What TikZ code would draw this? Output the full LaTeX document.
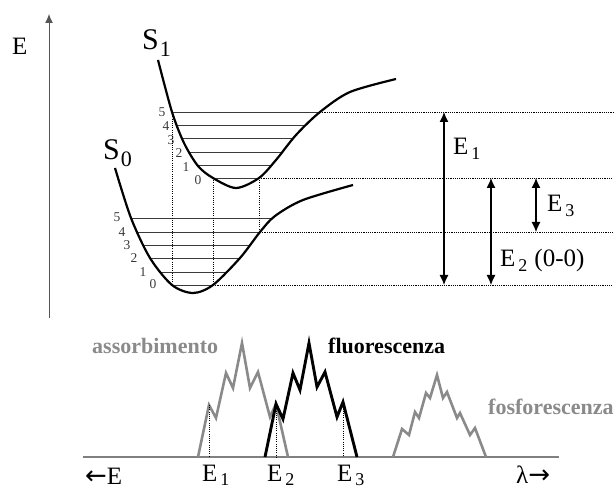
\documentclass[tikz,border=0pt]{standalone}
\usepackage{fontspec}
\setmainfont{Liberation Serif}
\newfontfamily\arrowfont{DejaVu Sans}
\usepackage{tikz}
\usetikzlibrary{arrows.meta,calc}
\definecolor{jabInk}{HTML}{000000}
\definecolor{jabLevel}{HTML}{3A3A3A}
\definecolor{jabAxis}{HTML}{555555}
\definecolor{jabGray}{HTML}{8A8A8A}
\definecolor{jabBase}{HTML}{808080}
\newcommand{\esub}[2][5pt]{\kern3pt\raisebox{-#1}{\fontsize{18}{18}\selectfont #2}}
\newcommand{\ssub}[1]{\kern1pt\raisebox{-7pt}{\fontsize{22}{22}\selectfont #1}}
\newcommand{\sidearrow}[1]{{\arrowfont\fontsize{26}{26}\selectfont #1}}
\tikzset{
  pes/.style={line width=2.2pt,jabInk},
  vib/.style={line width=.8pt,jabLevel},
  guide/.style={line width=.9pt,jabInk,dash pattern=on 1.1pt off 1.1pt},
  gap/.style={<->,line width=1.2pt,jabInk},
  lbl/.style={font=\fontsize{25}{28}\selectfont,inner sep=0pt,anchor=base west},
  statelbl/.style={font=\fontsize{30}{32}\selectfont,inner sep=0pt,anchor=base west},
  vnum/.style={font=\fontsize{13.5}{14}\selectfont,inner sep=0pt,text=jabLevel},
  band/.style={line width=2.6pt,jabGray},
  specname/.style={font=\fontsize{22}{24}\selectfont\bfseries,inner sep=0pt,anchor=base west}
}

\begin{document}
\begin{tikzpicture}[x=1pt,y=-1pt,>={Latex[length=10pt,width=9pt]}]
  \useasboundingbox (0,0) rectangle (614,489);
  \draw[line width=1pt,jabAxis,-{Latex[length=9pt,width=8pt]}] (49,318) -- (49,14);
  \node[lbl] (eaxis) at (12,55) {E};

  \coordinate (s1L5) at (172,112);
  \coordinate (s1R5) at (320,112);
  \coordinate (s1L0) at (213,178);
  \coordinate (s1R0) at (259,178);
  \coordinate (s0L0) at (172,285);
  \coordinate (s0R0) at (213,285);
  \coordinate (s0R4) at (260,232);
  \coordinate (rim) at (613,0);

  \begin{scope}
    \clip plot[smooth] coordinates {(158,60) (172,112) (184,143) (198,166) (213,178) (236,188)
      (259,178) (276,160) (296,135) (320,112) (350,92) (396,79)};
    \foreach \y in {112,125,138,152,165,178}{\draw[vib] (140,\y) -- (340,\y);}
  \end{scope}
  \begin{scope}
    \clip plot[smooth] coordinates {(115,168) (131,218) (150,258) (172,285) (193,293)
      (213,285) (240,258) (260,232) (275,216) (303,200) (353,185)};
    \foreach \y in {218,232,245,258,272,285}{\draw[vib] (110,\y) -- (300,\y);}
  \end{scope}
  \draw[pes] plot[smooth] coordinates {(158,60) (172,112) (184,143) (198,166) (213,178) (236,188)
      (259,178) (276,160) (296,135) (320,112) (350,92) (396,79)};
  \draw[pes] plot[smooth] coordinates {(115,168) (131,218) (150,258) (172,285) (193,293)
      (213,285) (240,258) (260,232) (275,216) (303,200) (353,185)};

  \foreach \n/\px/\py in {5/162/112,4/166/126,3/171/140,2/179/153,1/186/167,0/198/180}{
    \node[vnum] (sone\n) at (\px,\py) {\n};}
  \foreach \n/\px/\py in {5/117/217,4/122/232,3/127/245,2/134/258,1/143/272,0/153/284}{
    \node[vnum] (szero\n) at (\px,\py) {\n};}
  \node[statelbl] (sone) at (142,50) {S\ssub{1}};
  \node[statelbl] (szero) at (103,160) {S\ssub{0}};

  \draw[guide] (s1L5) -- (s0L0);
  \draw[guide] (s1L0) -- (s0R0);
  \draw[guide] (s1R0) -- (s1R0 |- s0R4);
  \draw[guide] (s1R5) -- (s1R5 -| rim);
  \draw[guide] (s1R0) -- (s1R0 -| rim);
  \draw[guide] (s0R4) -- (s0R4 -| rim);
  \draw[guide] (s0R0) -- (s0R0 -| rim);

  \coordinate (xa) at (444,0);
  \coordinate (xb) at (491,0);
  \coordinate (xc) at (536,0);
  \draw[gap] (xa |- s1R5) -- (xa |- s0R0);
  \draw[gap] (xb |- s1R0) -- (xb |- s0R0);
  \draw[gap] (xc |- s1R0) -- (xc |- s0R4);
  \node[lbl] (eone) at (453,155) {E\esub{1}};
  \node[lbl] (ethree) at (547,212) {E\esub{3}};
  \node[lbl] (etwo) at (500,267) {E\esub{2}\kern7pt(0-0)};

  \draw[line width=1.5pt,jabBase] (83,457) -- (559,457);
  \draw[band] (198,457) -- (209,405) -- (216,418) -- (226,373) -- (233,388) -- (242,343)
    -- (250,388) -- (258,372) -- (270,417) -- (276,404) -- (288,457);
  \draw[band,jabInk,line width=2.9pt] (265,457) -- (276,404) -- (283,419) -- (293,373)
    -- (300,390) -- (309,343) -- (317,387) -- (325,372) -- (337,417) -- (343,402) -- (357,457);
  \draw[band] (393,457) -- (402,429) -- (409,435) -- (415,412) -- (419,418) -- (426,393)
    -- (430,398) -- (437,375) -- (443,398) -- (447,392) -- (457,418) -- (460,413)
    -- (470,435) -- (475,428) -- (486,457);
  \draw[guide] (209,405) -- (209,457);
  \draw[guide] (276,404) -- (276,457);
  \draw[guide] (343,402) -- (343,457);

  \node[specname,text=jabGray] (absname) at (92,354) {assorbimento};
  \node[specname,text=jabInk] (fluname) at (328,354) {fluorescenza};
  \node[specname,text=jabGray] (fosname) at (488,415) {fosforescenza};
  \node[lbl] (eleft) at (85,484) {\sidearrow{←}E};
  \node[lbl] (lamright) at (516,483) {λ\sidearrow{→}};
  \node[lbl] (bone) at (202,482) {E\esub[4pt]{1}};
  \node[lbl] (btwo) at (267,482) {E\esub[4pt]{2}};
  \node[lbl] (bthree) at (337,482) {E\esub[4pt]{3}};
\end{tikzpicture}
\end{document}
